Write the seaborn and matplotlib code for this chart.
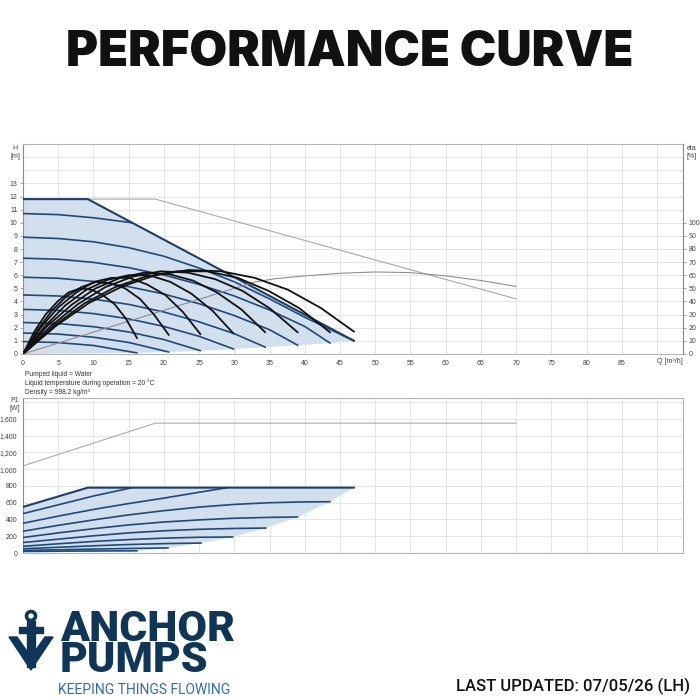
import numpy as np
import pandas as pd
import matplotlib
matplotlib.use("Agg")
import matplotlib.pyplot as plt
import seaborn as sns
from matplotlib.patches import Polygon, Rectangle, Circle
from matplotlib.ticker import FuncFormatter

# ---- QH curves (Q [m3/h], H [m]) ----
H_MAX_Q = [0, 9.2, 47]
H_MAX_H = [11.8, 11.8, 1.0]
QH_Q = [
    [0, 5, 10, 15.5],
    [0, 5, 10, 15, 20, 25, 30, 35, 40, 47],
    [0, 5, 10, 15, 20, 25, 30, 35, 40, 43.6],
    [0, 5, 10, 15, 20, 25, 30, 35, 39],
    [0, 5, 10, 15, 20, 25, 30, 34.4],
    [0, 5, 10, 15, 20, 25, 29.9],
    [0, 5, 10, 15, 20, 25.2],
    [0, 5, 10, 15, 20.7],
    [0, 5, 10, 16.2],
]
QH_H = [
    [10.7, 10.62, 10.38, 10.0],
    [8.9, 8.8, 8.55, 8.1, 7.45, 6.55, 5.5, 4.2, 2.8, 1.0],
    [7.3, 7.22, 6.98, 6.58, 6.02, 5.3, 4.42, 3.35, 2.1, 0.83],
    [5.85, 5.77, 5.53, 5.13, 4.57, 3.83, 2.93, 1.85, 0.67],
    [4.5, 4.42, 4.18, 3.78, 3.2, 2.45, 1.55, 0.52],
    [3.4, 3.32, 3.08, 2.68, 2.1, 1.35, 0.38],
    [2.4, 2.32, 2.08, 1.68, 1.1, 0.25],
    [1.6, 1.52, 1.28, 0.88, 0.15],
    [0.95, 0.87, 0.65, 0.08],
]
H_LOW_Q = [0, 16.2, 20.7, 25.2, 29.9, 34.4, 39, 43.6, 47]
H_LOW_H = [0, 0.08, 0.15, 0.25, 0.38, 0.52, 0.67, 0.83, 1.0]

# ---- efficiency curves (eta [%]) ----
ETA_Q = [
    [0, 1.6, 3.2, 4.9, 6.5, 8.1, 9.7, 11.3, 13.0, 14.6, 16.2],
    [0, 2.1, 4.1, 6.2, 8.3, 10.4, 12.4, 14.5, 16.6, 18.6, 20.7],
    [0, 2.5, 5.0, 7.6, 10.1, 12.6, 15.1, 17.6, 20.2, 22.7, 25.2],
    [0, 3.0, 6.0, 9.0, 12.0, 15.0, 17.9, 20.9, 23.9, 26.9, 29.9],
    [0, 3.4, 6.9, 10.3, 13.8, 17.2, 20.6, 24.1, 27.5, 31.0, 34.4],
    [0, 3.9, 7.8, 11.7, 15.6, 19.5, 23.4, 27.3, 31.2, 35.1, 39],
    [0, 4.4, 8.7, 13.1, 17.4, 21.8, 26.2, 30.5, 34.9, 39.2, 43.6],
    [0, 4.7, 9.4, 14.1, 18.8, 23.5, 28.2, 32.9, 37.6, 42.3, 47],
]
ETA_V = [
    [0, 17, 30, 40, 47, 50, 49, 45, 38, 27, 12],
    [0, 18.5, 33, 44, 51, 55, 54, 50, 42, 30, 14.5],
    [0, 20, 35.5, 47, 55, 58, 58, 53, 45, 32, 15],
    [0, 20.5, 37, 49, 56.5, 60, 60, 55, 46, 33, 15.5],
    [0, 21, 37.5, 50, 58, 62, 61, 56, 47, 34, 16.5],
    [0, 21, 38, 51, 59, 63, 62, 57, 48, 34.5, 16.5],
    [0, 21.5, 38.5, 51, 59, 63, 63, 58, 48, 35, 16.5],
    [0, 21.5, 39, 51.5, 60, 64, 63, 58, 49, 35, 17],
]

# ---- grey reference curves ----
GREY_H_Q = [0, 18.8, 70]
GREY_H_H = [11.8, 11.8, 4.2]
GREY_ETA_Q = [0, 33, 36, 40, 45, 50, 55, 60, 65, 70]
GREY_ETA_V = [0, 55, 57.5, 59.5, 61.5, 62.5, 62, 59.5, 56, 51.5]
GREY_P_Q = [0, 18.8, 70]
GREY_P_V = [1040, 1550, 1550]

# ---- power curves (P1 [W]) ----
P_MAX_Q = [0, 9.2, 47]
P_MAX_V = [550, 780, 780]
P_Q = [
    [0, 5, 10, 15.5],
    [0, 5, 10, 15, 20, 25, 29],
    [0, 5, 10, 15, 20, 25, 30, 35, 40, 43.6],
    [0, 5, 10, 15, 20, 25, 30, 35, 39],
    [0, 5, 10, 15, 20, 25, 30, 34.5],
    [0, 5, 10, 15, 20, 25, 29.8],
    [0, 5, 10, 15, 20, 25.3],
    [0, 5, 10, 15, 20.6],
    [0, 5, 10, 16.2],
]
P_V = [
    [470, 575, 680, 780],
    [355, 440, 520, 590, 655, 725, 780],
    [260, 330, 395, 455, 505, 548, 580, 600, 610, 612],
    [185, 240, 290, 335, 370, 395, 415, 425, 430],
    [125, 165, 205, 240, 265, 283, 293, 298],
    [80, 110, 138, 160, 177, 188, 191],
    [50, 68, 86, 101, 112, 119],
    [30, 38, 47, 54, 60],
    [20, 22, 24, 26],
]
P_LOW_Q = [0, 16.2, 20.6, 25.3, 29.8, 34.5, 39, 43.6, 47]
P_LOW_V = [0, 26, 60, 119, 191, 298, 430, 612, 780]

Q_TICKS = list(range(0, 90, 5))
H_TICKS = list(range(0, 14))
ETA_TICKS = list(range(0, 101, 10))
P_TICKS = list(range(0, 1601, 200))

NAVY = "#1f4a7e"
LOGO = "#0f3557"
FILL = "#d2dfec"
GRID = "#e1e1e1"
GREY = "#a9a9a9"


def long_df(qs, vs, name):
    rows = []
    for i, (q, v) in enumerate(zip(qs, vs)):
        rows += [(i, a, b) for a, b in zip(q, v)]
    return pd.DataFrame(rows, columns=["curve", "Q", name])


def px(x0, y0, x1, y1):
    return [x0 / 700, 1 - y1 / 700, (x1 - x0) / 700, (y1 - y0) / 700]


sns.set_theme(style="white")
plt.rcParams["font.family"] = ["Liberation Sans", "DejaVu Sans"]

fig = plt.figure(figsize=(7, 7), dpi=100)
bg = fig.add_axes([0, 0, 1, 1])
bg.set_xlim(0, 700)
bg.set_ylim(700, 0)
bg.axis("off")

ax_h = fig.add_axes(px(23, 144, 683, 354))
ax_p = fig.add_axes(px(23, 398, 683, 553))
ax_e = ax_h.twinx()


def style_axes(ax, ymax):
    ax.set_xlim(0, 93.7)
    ax.set_ylim(0, ymax)
    for s in ax.spines.values():
        s.set_color("#b5b5b5")
        s.set_linewidth(0.8)
    ax.spines["left"].set_color("#8c8c8c")
    ax.tick_params(length=2.5, width=0.5, color="#8c8c8c", labelcolor="#444444",
                   labelsize=5, pad=1.5)
    for q in range(0, 91, 5):
        ax.axvline(q, color=GRID, lw=0.6, zorder=0)


# ---- top: QH + eta ----
style_axes(ax_h, 16)
for h in range(1, 16):
    ax_h.axhline(h, color=GRID, lw=0.6, zorder=0)
ax_h.set_xticks(Q_TICKS + [90])
ax_h.set_xticklabels([str(q) for q in Q_TICKS] + [""])
ax_h.set_yticks(H_TICKS)

top_q = H_MAX_Q + H_LOW_Q[::-1]
top_h = H_MAX_H + H_LOW_H[::-1]
ax_h.fill(top_q, top_h, color=FILL, lw=0, zorder=1)

sns.lineplot(x=GREY_H_Q, y=GREY_H_H, ax=ax_h, color=GREY, lw=0.8, zorder=2)
sns.lineplot(data=long_df(QH_Q, QH_H, "H"), x="Q", y="H", units="curve",
             estimator=None, sort=False, color=NAVY, lw=1.2, ax=ax_h,
             legend=False, zorder=3)
sns.lineplot(x=H_MAX_Q, y=H_MAX_H, ax=ax_h, color="#1c3f6c", lw=1.5, zorder=4)
ax_h.set_xlabel("")
ax_h.set_ylabel("")

ax_e.set_ylim(0, 160)
ax_e.set_yticks(ETA_TICKS)
ax_e.tick_params(length=2.5, width=0.5, color="#8c8c8c", labelcolor="#444444",
                 labelsize=5, pad=1.5)
for s in ax_e.spines.values():
    s.set_visible(False)
ax_e.spines["right"].set_visible(True)
ax_e.spines["right"].set_color("#8c8c8c")
ax_e.spines["right"].set_linewidth(0.8)
ax_e.grid(False)
sns.lineplot(x=GREY_ETA_Q, y=GREY_ETA_V, ax=ax_e, color="#8f8f8f", lw=0.8)
sns.lineplot(data=long_df(ETA_Q, ETA_V, "eta"), x="Q", y="eta", units="curve",
             estimator=None, sort=False, color="#111111", lw=1.3, ax=ax_e,
             legend=False)
ax_e.set_ylabel("")

# ---- bottom: P1 ----
style_axes(ax_p, 1850)
for p in range(200, 1801, 200):
    ax_p.axhline(p, color=GRID, lw=0.6, zorder=0)
ax_p.set_xticks([])
ax_p.set_yticks(P_TICKS)
ax_p.yaxis.set_major_formatter(FuncFormatter(lambda v, _: f"{int(v):,}"))

bot_q = P_MAX_Q + P_LOW_Q[::-1]
bot_v = P_MAX_V + P_LOW_V[::-1]
ax_p.fill(bot_q, bot_v, color=FILL, lw=0, zorder=1)
sns.lineplot(x=GREY_P_Q, y=GREY_P_V, ax=ax_p, color="#a8a8c4", lw=0.8, zorder=2)
sns.lineplot(data=long_df(P_Q, P_V, "P"), x="Q", y="P", units="curve",
             estimator=None, sort=False, color=NAVY, lw=1.2, ax=ax_p,
             legend=False, zorder=3)
sns.lineplot(x=P_MAX_Q, y=P_MAX_V, ax=ax_p, color="#1c3f6c", lw=1.5, zorder=4)
ax_p.set_xlabel("")
ax_p.set_ylabel("")

# ---- chart texts ----
small = dict(fontsize=5, color="#444444")
bg.text(15, 148, "H", ha="center", va="center", **small)
bg.text(15, 156, "[m]", ha="center", va="center", **small)
bg.text(692, 148, "eta", ha="center", va="center", **small)
bg.text(692, 156, "[%]", ha="center", va="center", **small)
bg.text(657, 361.5, "Q [m³/h]", ha="left", va="center", **small)
bg.text(15, 401, "P1", ha="center", va="center", **small)
bg.text(15, 408, "[W]", ha="center", va="center", **small)
bg.add_patch(Rectangle((612, 144), 71, 13, facecolor="white", edgecolor="#b0b0b0",
                       lw=0.6, zorder=5))
bg.text(614.5, 150.5, "MAGNA3 D 65-120 F", ha="left", va="center", fontsize=4.6,
        color="#333333", zorder=6)
bg.set_zorder(-1)

for i, line in enumerate(["Pumped liquid = Water",
                          "Liquid temperature during operation = 20 °C",
                          "Density = 998.2 kg/m³"]):
    fig.text(25 / 700, 1 - (374 + 9 * i) / 700, line, fontsize=4.8,
             color="#333333", va="center")

# ---- header / footer ----
fig.text(0.5, 1 - 66 / 700, "PERFORMANCE CURVE", ha="center", va="baseline",
         fontsize=35.3, fontweight="black", family=["Inter", "DejaVu Sans"],
         color="#111111")
fig.text(60 / 700, 1 - 672 / 700, "ANCHOR\nPUMPS", ha="left", va="baseline",
         fontsize=30.8, fontweight="black", family=["Roboto", "DejaVu Sans"],
         color=LOGO, linespacing=0.68)
fig.text(58 / 700, 1 - 694 / 700, "KEEPING THINGS FLOWING", ha="left",
         va="baseline", fontsize=10, family=["Roboto", "DejaVu Sans"],
         color="#2f6db3")
fig.text(690 / 700, 1 - 691 / 700, "LAST UPDATED: 07/05/26 (LH)", ha="right",
         va="baseline", fontsize=12, fontweight="medium",
         family=["Roboto", "DejaVu Sans"], color="#111111")

# anchor icon
icon = fig.add_axes([0, 0, 1, 1])
icon.set_xlim(0, 700)
icon.set_ylim(700, 0)
icon.axis("off")
icon.add_patch(Circle((31, 616), 4.5, facecolor="none", edgecolor=LOGO, lw=2.6))
icon.add_patch(Rectangle((27, 621), 8, 46, color=LOGO))
icon.add_patch(Rectangle((19, 627), 24, 6, color=LOGO))
icon.add_patch(Polygon([(9, 637), (17, 637), (31, 657), (45, 637), (53, 637),
                        (31, 670)], closed=True, color=LOGO))

fig.savefig("out.png", dpi=100, facecolor="white")
